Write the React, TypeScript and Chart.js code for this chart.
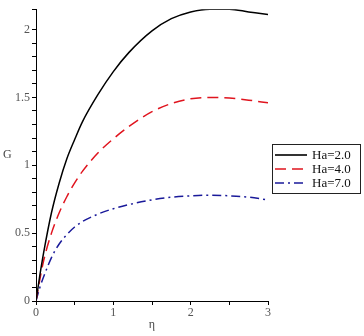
import React, { useEffect, useRef } from "react";
import { Chart, registerables } from "chart.js";

Chart.register(...registerables);

const etaValues = [0, 0.05, 0.1, 0.2, 0.3, 0.4, 0.5, 0.6, 0.8, 1.0, 1.2, 1.5, 1.75, 2.0, 2.25, 2.5, 2.75, 3.0];
const gHa2 = [0, 0.19, 0.36, 0.65, 0.87, 1.05, 1.19, 1.32, 1.52, 1.69, 1.83, 1.99, 2.08, 2.13, 2.15, 2.15, 2.13, 2.11];
const gHa4 = [0, 0.16, 0.3, 0.5, 0.65, 0.77, 0.87, 0.955, 1.09, 1.195, 1.285, 1.395, 1.455, 1.49, 1.5, 1.495, 1.48, 1.46];
const gHa7 = [0, 0.1, 0.18, 0.32, 0.42, 0.49, 0.545, 0.585, 0.64, 0.68, 0.71, 0.745, 0.765, 0.775, 0.78, 0.775, 0.765, 0.745];
const seriesLabels = ["Ha=2.0", "Ha=4.0", "Ha=7.0"];
const xTitle = "η";
const yTitle = "G";

const colors = ["#000000", "#e0141e", "#1a1a9a"];
const dashes = [[], [11, 6], [9, 4, 2, 4]];

export default function App() {
  const ref = useRef<HTMLCanvasElement>(null);
  useEffect(() => {
    const series = [gHa2, gHa4, gHa7];
    const overlay = {
      id: "overlay",
      afterDraw(chart: any) {
        const ctx = chart.ctx;
        const area = chart.chartArea;
        ctx.save();
        ctx.fillStyle = "#444";
        ctx.font = "12px 'Liberation Serif'";
        ctx.textAlign = "left";
        ctx.textBaseline = "middle";
        ctx.fillText(yTitle, 3, (area.top + area.bottom) / 2);
        ctx.textAlign = "center";
        ctx.fillText(xTitle, (area.left + area.right) / 2, 325);
        const lx = 272, ly = 144, lw = 88, lh = 49;
        ctx.fillStyle = "#fff";
        ctx.fillRect(lx, ly, lw, lh);
        ctx.strokeStyle = "#222";
        ctx.lineWidth = 1;
        ctx.setLineDash([]);
        ctx.strokeRect(lx + 0.5, ly + 0.5, lw, lh);
        ctx.font = "13px 'Liberation Serif'";
        ctx.textAlign = "left";
        for (let i = 0; i < 3; i++) {
          const y = 155 + i * 14;
          ctx.strokeStyle = colors[i];
          ctx.lineWidth = 1.6;
          ctx.setLineDash(dashes[i]);
          ctx.beginPath();
          ctx.moveTo(275, y);
          ctx.lineTo(307, y);
          ctx.stroke();
          ctx.fillStyle = "#111";
          ctx.fillText(seriesLabels[i], 312, y + 1);
        }
        ctx.restore();
      },
    };
    const chart = new Chart(ref.current!, {
      type: "line",
      data: {
        datasets: series.map((s, i) => ({
          label: seriesLabels[i],
          data: etaValues.map((x, j) => ({ x, y: s[j] })),
          borderColor: colors[i],
          borderWidth: 1.5,
          borderDash: dashes[i],
          pointRadius: 0,
          cubicInterpolationMode: "monotone",
          fill: false,
        })),
      },
      options: {
        animation: false,
        responsive: false,
        layout: { padding: { top: 7, right: 96, left: 0, bottom: 0 } },
        plugins: { legend: { display: false }, tooltip: { enabled: false } },
        scales: {
          x: {
            type: "linear",
            min: 0,
            max: 3,
            afterFit: (s: any) => { s.height = 35; },
            border: { color: "#000", width: 1 },
            grid: { drawOnChartArea: false, tickLength: 4, color: "#000" },
            ticks: {
              stepSize: 0.5,
              autoSkip: false,
              maxRotation: 0,
              color: "#555",
              font: { family: "'Liberation Serif'", size: 12 },
              padding: 1,
              callback: (v: any) => (Math.abs(v - Math.round(v)) < 1e-6 ? String(Math.round(v)) : ""),
            },
          },
          y: {
            type: "linear",
            min: 0,
            max: 2.15,
            afterFit: (s: any) => { s.width = 36; },
            border: { color: "#000", width: 1 },
            grid: { drawOnChartArea: false, tickLength: 4, color: "#000" },
            ticks: {
              stepSize: 0.1,
              autoSkip: false,
              color: "#555",
              font: { family: "'Liberation Serif'", size: 12 },
              padding: 2,
              callback: (v: any) => {
                const r = Math.round(v * 10) / 10;
                if (Math.abs(v - r) > 1e-6) return "";
                if (Math.abs(r * 2 - Math.round(r * 2)) < 1e-6) return String(r);
                return "";
              },
            },
          },
        },
      },
      plugins: [overlay],
    });
    return () => chart.destroy();
  }, []);
  return (
    <div style={{ position: "fixed", left: 0, top: 0, width: 364, height: 336, background: "#fff" }}>
      <canvas ref={ref} width={364} height={336} style={{ width: 364, height: 336 }} />
    </div>
  );
}
